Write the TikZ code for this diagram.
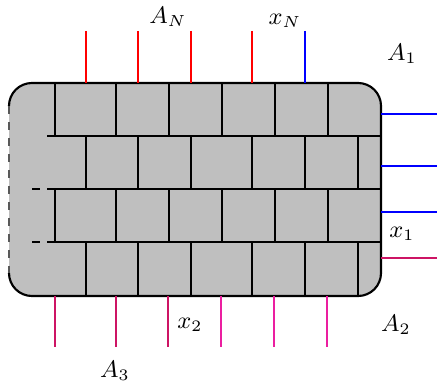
\documentclass[tikz,border=0pt]{standalone}
\usepackage{xcolor}
\usepackage{tikz}
\usetikzlibrary{positioning}
\definecolor{stubcrim}{RGB}{205,20,100}
\definecolor{stubpink}{RGB}{235,30,160}
\tikzset{
    blockfill/.style={fill=lightgray, rounded corners=8.6pt},
    border/.style={draw, thick, rounded corners=8.6pt},
    openedge/.style={dashed, thick, black!65},
    seam/.style={thin, black},
    stub/.style={thin},
    lbl/.style={inner sep=1pt, font=\small},
}

\begin{document}
\begin{tikzpicture}[x=0.375pt, y=-0.375pt]
    \useasboundingbox (0,0) rectangle (437,381);

    % block
    \fill[blockfill] (9,83) rectangle (381,296);
    \draw[border] (9,106) -- (9,83) -- (381,83) -- (381,296) -- (9,296) -- (9,273);
    \draw[openedge] (9,106) -- (9,273);

    % courses of the brick pattern
    \foreach \y in {136,189,242}
        \draw[seam] (47,\y) -- (381,\y);
    \foreach \y in {189,242}
        \draw[seam, dashed] (32,\y) -- (47,\y);
    \foreach \y/\z in {83/136,189/242}
        \foreach \x in {55,116,169,222,275,328}
            \draw[seam] (\x,\y) -- (\x,\z);
    \foreach \y/\z in {136/189,242/296}
        \foreach \x in {86,138,191,252,305,358}
            \draw[seam] (\x,\y) -- (\x,\z);

    % stubs
    \foreach \x/\c in {86/red,138/red,191/red,252/red,305/blue}
        \draw[stub, \c] (\x,31) -- (\x,83);
    \foreach \y/\c in {114/blue,166/blue,212/blue,258/stubcrim}
        \draw[stub, \c] (381,\y) -- (437,\y);
    \foreach \x/\c in {55/stubcrim,116/stubcrim,168/stubcrim,221/stubpink,274/stubpink,327/stubpink}
        \draw[stub, \c] (\x,296) -- (\x,347);

    % labels
    \node[lbl] (aN) at (168,17) {$A_N$};
    \node[lbl] (xN) at (285,21) {$x_N$};
    \node[lbl] (a1) at (402,54) {$A_1$};
    \node[lbl] (x1) at (402,234) {$x_1$};
    \node[lbl] (a2) at (396,325) {$A_2$};
    \node[lbl] (x2) at (190,325) {$x_2$};
    \node[lbl] (a3) at (115,371) {$A_3$};
\end{tikzpicture}
\end{document}
